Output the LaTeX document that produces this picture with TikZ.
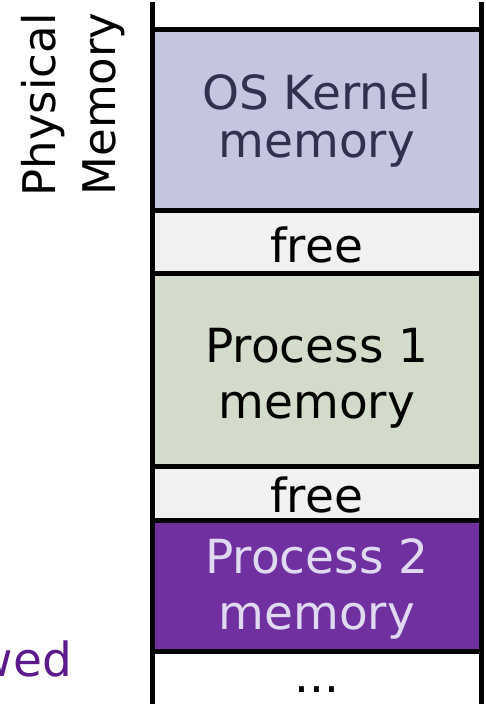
\documentclass[tikz,border=0pt]{standalone}
\usepackage{fontspec}
\setmainfont{DejaVu Sans}
\definecolor{kernfill}{HTML}{C4C5DE}
\definecolor{kerntext}{HTML}{30304F}
\definecolor{freefill}{HTML}{F1F1F1}
\definecolor{p1fill}{HTML}{D3DCCB}
\definecolor{p2fill}{HTML}{7030A0}
\definecolor{p2text}{HTML}{E0DAF0}
\definecolor{wedtext}{HTML}{5C1A8C}
\tikzset{
  membox/.style={draw=black, line width=5pt, rectangle, inner sep=0pt, outer sep=0pt,
    minimum width=328.5pt, anchor=north west},
  boxtext/.style={inner sep=0pt, outer sep=0pt, align=center, font=\fontsize{47}{56}\selectfont},
  sidelabel/.style={inner sep=0pt, outer sep=0pt, rotate=90, anchor=base, font=\fontsize{45}{54}\selectfont},
  rail/.style={line width=5pt, black}
}
\begin{document}
\begin{tikzpicture}[x=1pt, y=1pt]
\useasboundingbox (0,0) rectangle (485,-704);
\clip (0,0) rectangle (485,-704);
% memory boxes
\node[membox, fill=kernfill, minimum height=180.5pt] (kernel) at (152.5,-29.5) {};
\node[membox, fill=freefill, minimum height=63.7pt] (free1) at (kernel.south west) {};
\node[membox, fill=p1fill, minimum height=192.3pt] (proc1) at (free1.south west) {};
\node[membox, fill=freefill, minimum height=54pt] (free2) at (proc1.south west) {};
\node[membox, fill=p2fill, minimum height=131.5pt] (proc2) at (free2.south west) {};
% rails
\coordinate (lt) at (152.5,-2);
\coordinate (lb) at (152.5,-706);
\coordinate (rt) at (481,-2);
\coordinate (rb) at (481,-706);
\draw[rail] (lt) -- (lb);
\draw[rail] (rt) -- (rb);
% texts
\node[boxtext, text=kerntext, font=\fontsize{47}{48}\selectfont] (kerneltext) at (316.75,-120.7) {OS Kernel\\memory};
\node[boxtext, anchor=base] (free1text) at (316.75,-262) {free};
\node[boxtext] (proc1text) at (316.75,-378.4) {Process 1\\memory};
\node[boxtext, anchor=base] (free2text) at (316.75,-512) {free};
\node[boxtext, text=p2text] (proc2text) at (316.75,-589.4) {Process 2\\memory};
\node[boxtext, anchor=base] (dots) at (317,-692) {...};
\node[boxtext, anchor=base east, text=wedtext] (wed) at (72,-676) {wed};
% side label
\node[sidelabel] (phys) at (55,-105) {Physical};
\node[sidelabel] (mem) at (115,-104) {Memory};
\end{tikzpicture}
\end{document}
